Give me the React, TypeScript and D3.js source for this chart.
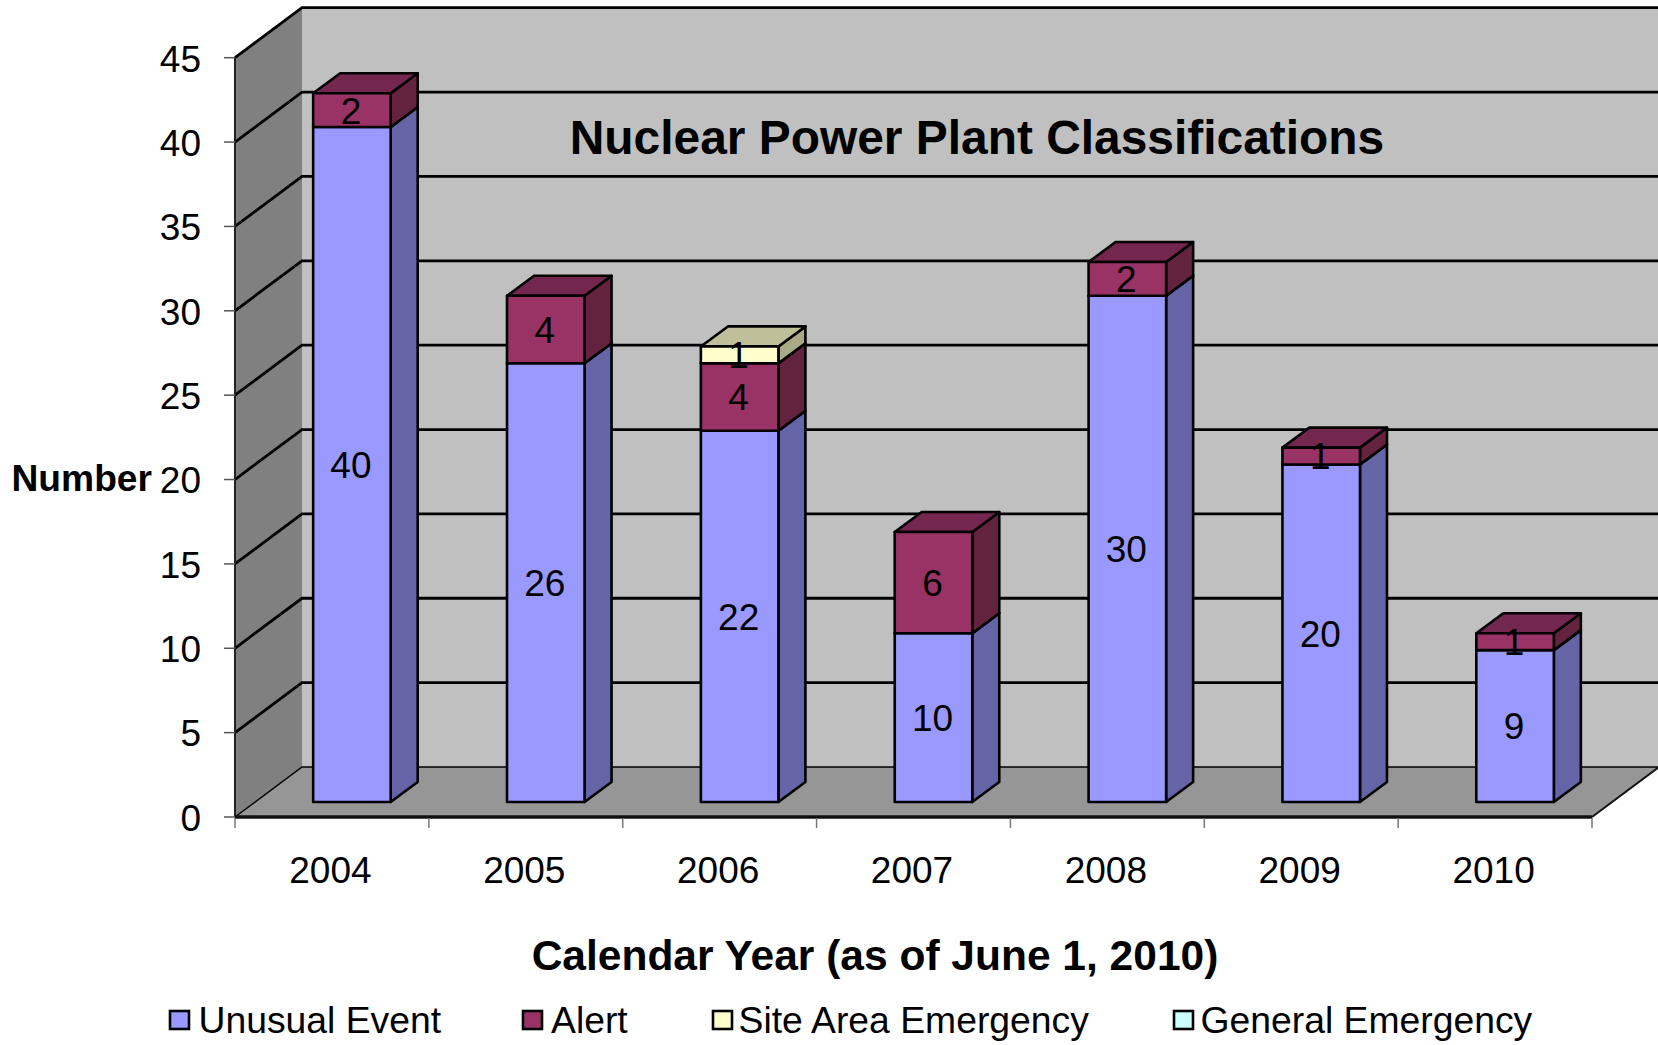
import React from "react";
import * as d3 from "d3";

const years = ["2004", "2005", "2006", "2007", "2008", "2009", "2010"];
const unusualEvent = [40, 26, 22, 10, 30, 20, 9];
const alert = [2, 4, 4, 6, 2, 1, 1];
const siteAreaEmergency = [0, 0, 1, 0, 0, 0, 0];
const generalEmergency = [0, 0, 0, 0, 0, 0, 0];
const seriesNames = ["Unusual Event", "Alert", "Site Area Emergency", "General Emergency"];
const yTicks = [0, 5, 10, 15, 20, 25, 30, 35, 40, 45];

const FONT = "'Liberation Sans', Arial, sans-serif";
const palette = [
  { front: "#9999FF", side: "#6464A6", top: "#7373BF" },
  { front: "#993366", side: "#63233F", top: "#73274F" },
  { front: "#FFFFCC", side: "#A9A985", top: "#BFBF99" },
  { front: "#CCFFFF", side: "#85A9A9", top: "#99BFBF" },
];
const legendX = [170, 523, 713, 1174];
const legendTextX = [198.5, 551, 738.5, 1200.5];

const x = d3.scaleBand<string>().domain(years).range([235, 1592]).paddingInner(0.6).paddingOuter(0.3);
const band = d3.scaleBand<string>().domain(years).range([235, 1592]);
const y = d3.scaleLinear().domain([0, 45]).range([817, 57.7]);

// oblique projection: the depth of the chart box, and of the bars inside it
const DX = 67, DY = -50;
const BOX = { x: 20, y: -15 };
const BAR = { x: 27, y: -20 };
const pts = (p: number[][]) => p.map((q) => q.join(",")).join(" ");

export default function App() {
  const stacks = d3.stack<number>().keys(["0", "1", "2", "3"]).value((i, k) =>
    [unusualEvent, alert, siteAreaEmergency, generalEmergency][+k][i]
  )(years.map((_, i) => i));
  const x0 = 235, x1 = 1592;
  const back = (v: number) => y(v) + DY;
  return (
    <svg width={1658} height={1045} style={{ position: "absolute", left: 0, top: 0, background: "#fff" }} fontFamily={FONT}>
      {/* walls */}
      <polygon points={pts([[x0 + DX, back(45)], [x1 + DX, back(45)], [x1 + DX, back(0)], [x0 + DX, back(0)]])} fill="#C0C0C0" />
      <polygon points={pts([[x0, y(45)], [x0 + DX, back(45)], [x0 + DX, back(0)], [x0, y(0)]])} fill="#808080" />
      <polygon points={pts([[x0, y(0)], [x0 + DX, back(0)], [x1 + DX, back(0)], [x1, y(0)]])} fill="#969696" />
      {/* gridlines */}
      {yTicks.map((t) => (
        <g key={t} stroke="#000" fill="none" strokeWidth={t === 0 ? 1.5 : 2.8}>
          <polyline points={pts([[x0, y(t)], [x0 + DX, back(t)], [x1 + DX, back(t)]])} />
        </g>
      ))}
      <line x1={x0} x2={x0} y1={y(45)} y2={y(0)} stroke="#222" strokeWidth={2} />
      <line x1={x0} x2={x1} y1={y(0)} y2={y(0)} stroke="#111" strokeWidth={3.5} />
      <line x1={x1} x2={x1 + DX} y1={y(0)} y2={back(0)} stroke="#111" strokeWidth={2} />
      {/* axis ticks */}
      {yTicks.map((t) => (
        <line key={t} x1={224} x2={x0} y1={y(t)} y2={y(t)} stroke="#555" strokeWidth={1.5} />
      ))}
      {[...years.map((d) => band(d) as number), x1].map((p) => (
        <line key={p} x1={p} x2={p} y1={818} y2={828} stroke="#777" strokeWidth={1.5} />
      ))}
      {/* bars */}
      {years.map((yr, i) => {
        const l = (x(yr) as number) + BOX.x;
        const r = l + x.bandwidth();
        const off = BOX.y;
        return (
          <g key={yr} stroke="#000" strokeWidth={2.6} strokeLinejoin="round">
            {stacks.map((s, k) => {
              const [a, b] = s[i];
              if (b <= a) return null;
              const ya = y(a) + off, yb = y(b) + off;
              return (
                <g key={k}>
                  <polygon fill={palette[k].side} points={pts([[r, ya], [r + BAR.x, ya + BAR.y], [r + BAR.x, yb + BAR.y], [r, yb]])} />
                  <polygon fill={palette[k].top} points={pts([[l, yb], [l + BAR.x, yb + BAR.y], [r + BAR.x, yb + BAR.y], [r, yb]])} />
                  <rect x={l} y={yb} width={r - l} height={ya - yb} fill={palette[k].front} />
                </g>
              );
            })}
          </g>
        );
      })}
      {/* data labels */}
      {years.map((yr, i) => {
        const c = (x(yr) as number) + BOX.x + x.bandwidth() / 2 - 1;
        return stacks.map((s, k) => {
          const [a, b] = s[i];
          if (b <= a) return null;
          return (
            <text key={yr + k} x={c} y={y((a + b) / 2) + BOX.y} dy="0.36em" textAnchor="middle" fontSize={37} fill="#000">
              {b - a}
            </text>
          );
        });
      })}
      {/* axis labels */}
      {yTicks.map((t) => (
        <text key={t} x={201} y={y(t) + 0.5} dy="0.36em" textAnchor="end" fontSize={37}>{t}</text>
      ))}
      {years.map((yr) => (
        <text key={yr} x={(band(yr) as number) + band.bandwidth() / 2 - 1.5} y={883} textAnchor="middle" fontSize={37}>{yr}</text>
      ))}
      <text x={977} y={153.5} textAnchor="middle" fontSize={47.9} fontWeight="bold">Nuclear Power Plant Classifications</text>
      <text x={11.5} y={491} fontSize={37.2} fontWeight="bold">Number</text>
      <text x={875} y={970} textAnchor="middle" fontSize={42.5} fontWeight="bold">Calendar Year (as of June 1, 2010)</text>
      {/* legend */}
      {seriesNames.map((n, k) => (
        <g key={n}>
          <rect x={legendX[k]} y={1011} width={19} height={18} fill={palette[k].front} stroke="#000" strokeWidth={2.6} />
          <text x={legendTextX[k]} y={1033} fontSize={37.3}>{n}</text>
        </g>
      ))}
    </svg>
  );
}
